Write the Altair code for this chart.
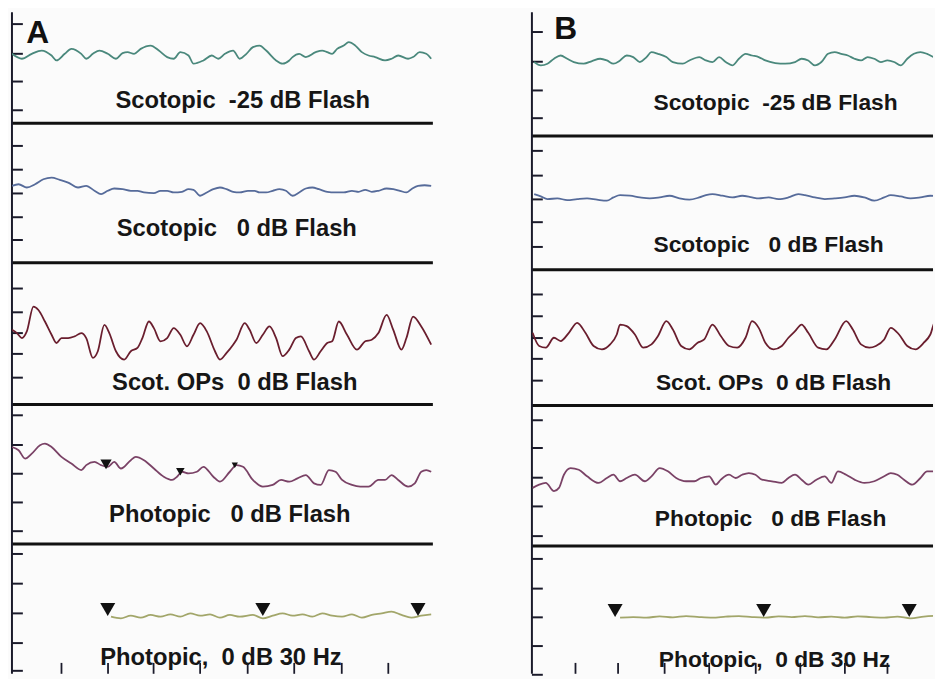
import altair as alt
import pandas as pd

# ---------------- data ----------------
ROWS = ["scot_m25", "scot_0", "scot_ops", "phot_0", "phot_30hz"]
LABELS = [
    "Scotopic\u00a0\u00a0-25 dB Flash",
    "Scotopic\u00a0\u00a0\u00a00 dB Flash",
    "Scot. OPs\u00a0\u00a00 dB Flash",
    "Photopic\u00a0\u00a0\u00a00 dB Flash",
    "Photopic,\u00a0\u00a00 dB 30 Hz",
]

# Panel A traces (t = time units from left axis, v = amplitude, up positive)
A1_T = [0, 10, 20, 30, 40, 45, 53.3, 60, 70, 75, 81.7, 88.3, 96.7, 105, 111.7, 116.7, 123.3, 130, 140, 148.3,
        156.7, 163.3, 170, 178.3, 183.3, 193.3, 201.7, 208.3, 215, 223.3, 230, 236.7, 243.3, 250, 256.7, 266.7,
        273.3, 280, 283.3, 290, 296.7, 306.7, 313.3, 318.3, 323.3, 328.3, 335, 340, 346.7, 353.3, 360, 366.7,
        376.7, 383.3, 390, 400, 405, 411.7, 418.3, 423.3]
A1_V = [0, -5, 0, 3.3, -1.7, -6.7, 0, 5, 0, -5, 0, 3.3, 0, -5, 0.7, 1.7, 0, 5, 8.3, 3.3,
        -3.3, -5, 1.7, -1.7, -10, -6.7, -1.7, -5, 0, 3.3, -5, 0, 6.7, 8.3, 3.3, -6.7,
        -10, -6.7, -3.3, 0, -3.3, 1.7, 3.3, 1.7, 0, 5, 8.3, 11.7, 8.3, 1.7, -1.7, -3.3,
        -6.7, -5, -1.7, -5, -3.3, 1.7, 0, -5]

A2_T = [0, 6.7, 15, 23.3, 31.7, 40, 48.3, 56.7, 66.7, 75, 83.3, 90, 96.7, 103.3, 111.7, 120, 126.7, 133.3,
        143.3, 150, 156.7, 163.3, 171.7, 178.3, 183.3, 190, 196.7, 203.3, 210, 216.7, 223.3, 230, 238.3, 245,
        250, 256.7, 263.3, 270, 276.7, 283.3, 290, 296.7, 303.3, 310, 318.3, 326.7, 335, 343.3, 350, 356.7,
        363.3, 370, 378.3, 385, 391.7, 398.3, 403.3, 410, 416.7, 423.3]
A2_V = [3.7, 5.3, 2, 5.3, 10.3, 12, 9.7, 7, 2, 3.7, -1.3, -4.7, -1.3, 1, 0.3, -1.3, -1.3, -3,
        -3.7, -1.3, -1.3, -3, -2.3, 0.3, -0.3, -6.3, -3, 0.3, 2, 0.3, -2.3, -3, -1.3, -1.3,
        -3, -3, -1.3, 0.3, -1.3, -6.3, -3, 1, 2, 0.3, -2.3, -3, -3, -1.3, -2.3, -0.3,
        -2.3, -1.3, 1, 0.3, -1.3, -3, 0.3, 3.7, 4.3, 3.7]

A3_T = [0, 5, 10, 15, 21.7, 26.7, 33.3, 40, 45, 50, 56.7, 63.3, 70, 75, 81.7, 86.7, 93.3, 98.3, 105, 113.3,
        120, 126.7, 131.7, 138.3, 143.3, 150, 156.7, 163.3, 170, 176.7, 183.3, 190, 196.7, 205, 210, 216.7,
        223.3, 226.7, 235, 240, 246.7, 253.3, 260, 266.7, 273.3, 280, 286.7, 291.7, 300, 305, 311.7, 318.3,
        323.3, 330, 338.3, 348.3, 356.7, 363.3, 370, 378.3, 385, 393.3, 398.3, 405, 413.3, 423.3]
A3_V = [8.3, 5, 0, 6.7, 31.7, 28.3, 16.7, 3.3, -5, 0, 0, 1.7, 5, 0, -20, -13.3, 13.3, 5, -13.3, -21.7,
        -13.3, -10, 0, 16.7, 10, -3.3, 0, 10, 3.3, -8.3, 3.3, 15, 6.7, -13.3, -21.7, -15,
        -6.7, -1.7, 15, 8.3, -5, 3.3, 11.7, 0, -18.3, -11.7, 0, 1.7, -13.3, -21.7, -13.3, -5,
        -3.3, 16.7, 3.3, -11.7, -3.3, -1.7, 5, 23.3, 8.3, -11.7, 0, 21.7, 11.7, -6.7]

A4_T = [0, 6.7, 13.3, 20, 28.3, 33.3, 40, 50, 60, 70, 75, 83.3, 90, 96.7, 103.3, 110, 120, 125, 133.3, 143.3,
        153.3, 161.7, 166.7, 171.7, 178.3, 186.7, 193.3, 203.3, 210, 220, 226.7, 233.3, 243.3, 253.3, 263.3,
        271.7, 280, 288.3, 296.7, 305, 311.7, 320, 326.7, 333.3, 343.3, 351.7, 360, 370, 376.7, 383.3, 390,
        400, 406.7, 413.3, 418.3, 423.3]
A4_V = [20, 16.7, 8.3, 13.3, 21.7, 23.3, 20, 10, 3.3, -3.3, 1.7, 5, 1.7, 0, 5, -1.7, 6.7, 10, 6.7, -1.7,
        -10, -13.3, -10, -5, -6.7, -5, 0, -10, -15, -5, 1.7, 0, -13.3, -20, -18.3,
        -13.3, -15, -11.7, -8.3, -16.7, -18.3, -3.3, -5, -13.3, -18.3, -20, -20, -13.3, -13.3, -8.3, -13.3,
        -20, -16.7, -5, -3.3, -5]

A5_T = [100, 110, 120, 130, 140, 150, 160, 170, 180, 190, 200, 210, 220, 230, 243.3, 253.3, 263.3, 273.3,
        283.3, 293.3, 303.3, 313.3, 323.3, 333.3, 343.3, 353.3, 363.3, 373.3, 383.3, 393.3, 403.3, 413.3, 423.3]
A5_V = [-1, -2.7, 0, -2, 0.7, -1, 1.3, -1, 2.3, 0, 1.3, -2, 0.7, -1, 0.7, -2.7, 0, 2.3,
        0, 1.3, -1, 2.3, 0, -1, 1.3, -2, 0.7, 2.3, 4, 0.7, -2, 0, 1.3]

# Panel B traces
B1_T = [2.3, 9, 15.7, 22.3, 29, 35.7, 42.3, 52.3, 60.7, 69, 75.7, 82.3, 89, 95.7, 102.3, 109, 115.7, 120.7,
        127.3, 135.7, 142.3, 152.3, 159, 169, 175.7, 182.3, 189, 195.7, 202.3, 209, 215.7, 222.3, 229, 235.7,
        245.7, 255.7, 265.7, 272.3, 279, 285.7, 292.3, 299, 305.7, 312.3, 319, 325.7, 332.3, 339, 345.7, 352.3,
        359, 365.7, 372.3, 379, 385.7, 392.3, 399, 405.7, 412]
B1_V = [-3.3, -6.7, -5, 0, 3.3, 0, -3.3, -5, -2.3, 0, -1.7, -5, -1.7, 3.3, 1.7, -3.3, 1.7, 6.7,
        5, 1.7, -3.3, -5, -1.7, 1.7, -1.7, -3.3, 1.7, -3.3, -6.7, 0, 5, 3.3, 1.7, -1.7,
        -4.3, -5, -3.3, 0, -1.7, -6.7, -3.3, 5, 6.7, 5, 3.3, 0, -1.7, 1.7, 0, -3.3,
        -1.7, -3.3, -6.7, 0, 5, 6.7, 5, 1.7, 0]

B2_T = [2.3, 9, 15.7, 25.7, 35.7, 45.7, 55.7, 65.7, 75.7, 82.3, 89, 99, 109, 119, 129, 139, 149, 159, 169,
        175.7, 182.3, 192.3, 202.3, 212.3, 222.3, 229, 239, 249, 259, 269, 275.7, 285.7, 295.7, 305.7, 315.7,
        325.7, 335.7, 345.7, 355.7, 362.3, 372.3, 382.3, 392.3, 402.3, 412]
B2_V = [3.3, 1, -1.7, -1, -2.7, -1.7, -1, -2.3, -3.3, 0, 2.3, 1.7, 0, -1, 0, 1.7, -1, -2.3, 0,
        2.3, 3.3, 1.7, 0, 1.7, 0, -1, 0, -1.7, 0, 3.3, 2.3, 0, -1.7, -1, 0,
        1.7, 0, -3.3, 0, 2.3, 1, -1, 0, 1.7, 1]

B3_T = [0.7, 7.3, 14, 22.3, 29, 37.3, 45.7, 54, 62.3, 70.7, 79, 85.7, 89, 95.7, 104, 112.3, 120.7, 127.3,
        135.7, 142.3, 150.7, 159, 167.3, 174, 182.3, 190.7, 199, 207.3, 215.7, 222.3, 229, 235.7, 244, 252.3,
        259, 265.7, 272.3, 279, 289, 297.3, 305.7, 317.3, 324, 332.3, 340.7, 347.3, 355.7, 362.3, 370.7, 379,
        387.3, 395.7, 402.3, 407.3, 412]
B3_V = [5, -8.3, -10, 0, -3.3, 5, 15, 5, -8.3, -11.7, -6.7, 3.3, 13.3, 11.7, 3.3, -10, -6.7, 1.7,
        16.7, 8.3, -8.3, -11.7, -5, -1.7, 13.3, 1.7, -8.3, -10, 0, 16.7, 10, -5, -11.7, -8.3,
        0, 6.7, 13.3, 5, -10, -11.7, -1.7, 16.7, 8.3, -6.7, -10, -8.3, -1.7, 10, 3.3, -8.3,
        -11.7, -5, 3.3, 16.7, 15]

B4_T = [0.7, 7.3, 14, 22.3, 27.3, 32.3, 39, 47.3, 55.7, 67.3, 75.7, 82.3, 89, 95.7, 104, 114, 120.7, 129,
        137.3, 145.7, 155.7, 164, 170.7, 179, 185.7, 190.7, 199, 205.7, 212.3, 219, 225.7, 232.3, 242.3, 252.3,
        259, 265.7, 272.3, 279, 287.3, 295.7, 302.3, 309, 317.3, 325.7, 335.7, 345.7, 355.7, 362.3, 369, 375.7,
        384, 392.3, 399, 405.7, 412]
B4_V = [-10, -6.7, -5, -13.3, -10, 3.3, 10, 8.3, 1.7, -5, 0, 3.3, -3.3, 0, 3.3, -3.3, 1.7, 10,
        6.7, 0, -3.3, -3.3, 0, 1.7, -6.7, -1.7, 3.3, 0, 3.3, 5, 3.3, -1.7, -3.3, -5,
        0, 3.3, -1.7, -6.7, -1.7, 1.7, -5, 6.7, 3.3, -1.7, -5, -3.3, 1.7, 5, 3.3, -1.7,
        -6.7, 0, 6.7, 6.7, 3.3]

B5_T = [89, 102.3, 115.7, 129, 142.3, 155.7, 169, 182.3, 195.7, 209, 222.3, 235.7, 249, 262.3, 275.7, 289,
        302.3, 315.7, 329, 342.3, 355.7, 369, 382.3, 395.7, 412]
B5_V = [-0.3, 0.3, -0.3, 1, 0, 1.3, 0.3, -0.3, 0.7, 1.3, 0.3, -0.3, 1, 0.3, 1.3, 0,
        0.7, -0.3, 1, 0.3, -0.3, 0.7, -1, 0.7, 1.7]

# 30 Hz stimulus markers and photopic peak markers
A_STIM_T = [96.7, 253.3, 410]
B_STIM_T = [84, 234, 381]
A_PEAK_T = [95, 170, 225]
A_PEAK_V = [2.5, -5.0, 1.5]
A_PEAK_SIZE = [130, 75, 40]

# axis divisions
A_BOTTOM_TICKS = [50, 97, 143, 190, 238, 285, 333, 380]
B_BOTTOM_TICKS = [44, 87, 134, 179, 226, 271, 316, 359]
A_LEFT_TICKS = [20, 50, 78, 107, 143, 167, 191, 215, 238, 287, 311, 332, 353, 377,
                415, 445, 474, 503, 532, 555, 585, 615, 645, 673]
B_LEFT_TICKS = [28, 58, 87, 115, 148, 173, 197, 220, 245, 293, 315, 337, 358, 380,
                420, 448, 478, 507, 537, 560, 590, 619, 648, 677]

# ---------------- layout ----------------
H = 668
TOP = 8


def uy(y_img):
    return H + TOP - y_img


PANELS = {
    "A": dict(
        W=425,
        traces=[(A1_T, A1_V), (A2_T, A2_V), (A3_T, A3_V), (A4_T, A4_V), (A5_T, A5_V)],
        base=[50, 187, 337, 467, 617.3],
        seps=[120, 261, 404, 545],
        colors=["#4a887c", "#566b9a", "#6a1e2e", "#7a4266", "#a2a66a"],
        label_t=[233, 227, 225, 220, 211],
        label_y=[98, 227, 382, 516, 660],
        letter_t=26, letter_y=29,
        stim=A_STIM_T, stim_y=611,
        bticks=A_BOTTOM_TICKS, lticks=A_LEFT_TICKS,
        font=24,
    ),
    "B": dict(
        W=405,
        traces=[(B1_T, B1_V), (B2_T, B2_V), (B3_T, B3_V), (B4_T, B4_V), (B5_T, B5_V)],
        base=[55, 195, 336.7, 478.3, 619],
        seps=[133, 268, 405, 547],
        colors=["#569688", "#5a70a0", "#9a3040", "#884676", "#969672"],
        label_t=[246, 239, 244, 241, 245],
        label_y=[100, 243, 382, 520, 662],
        letter_t=34, letter_y=25,
        stim=B_STIM_T, stim_y=612,
        bticks=B_BOTTOM_TICKS, lticks=B_LEFT_TICKS,
        font=23,
    ),
}


def build_panel(name, p):
    W = p["W"]
    xs = alt.Scale(domain=[0, W], nice=False, zero=False)
    ys = alt.Scale(domain=[0, H], nice=False, zero=False)

    rows = []
    for i, (ts, vs) in enumerate(p["traces"]):
        for t, v in zip(ts, vs):
            rows.append({"t": t, "y": uy(p["base"][i]) + v, "row": ROWS[i]})
    tr = pd.DataFrame(rows)

    lines = alt.Chart(tr).mark_line(clip=True, strokeWidth=1.8, interpolate="monotone").encode(
        x=alt.X("t:Q", scale=xs, axis=None),
        y=alt.Y("y:Q", scale=ys, axis=None),
        color=alt.Color("row:N", scale=alt.Scale(domain=ROWS, range=p["colors"]), legend=None),
        detail="row:N",
    )

    sep = pd.DataFrame({"y": [uy(v) for v in p["seps"]]})
    seps = alt.Chart(sep).mark_rule(color="#111111", strokeWidth=3).encode(
        x=alt.value(0), x2=alt.value(W), y=alt.Y("y:Q", scale=ys, axis=None)
    )

    axis_line = alt.Chart(pd.DataFrame({"k": [0]})).mark_rule(color="#1a1a2a", strokeWidth=2).encode(
        x=alt.value(0), y=alt.value(0), y2=alt.value(H)
    )

    lt = pd.DataFrame({"y": [uy(v) for v in p["lticks"]]})
    lticks = alt.Chart(lt).mark_rule(color="#1a1a2a", strokeWidth=2).encode(
        x=alt.value(0), x2=alt.value(11), y=alt.Y("y:Q", scale=ys, axis=None)
    )

    bt = pd.DataFrame({"t": p["bticks"]})
    bticks = alt.Chart(bt).mark_rule(color="#1a1a2a", strokeWidth=1.8).encode(
        x=alt.X("t:Q", scale=xs, axis=None), y=alt.value(H - 11), y2=alt.value(H)
    )

    lab = pd.DataFrame({
        "t": p["label_t"],
        "y": [uy(v) for v in p["label_y"]],
        "text": LABELS,
    })
    labels = alt.Chart(lab).mark_text(
        font="Liberation Sans", fontWeight="bold", fontSize=p["font"], color="#161616",
        align="center", baseline="middle",
    ).encode(x=alt.X("t:Q", scale=xs, axis=None), y=alt.Y("y:Q", scale=ys, axis=None), text="text:N")

    letter = alt.Chart(pd.DataFrame({"t": [p["letter_t"]], "y": [uy(p["letter_y"])], "text": [name]})).mark_text(
        font="Liberation Sans", fontWeight="bold", fontSize=32, color="#111111",
        align="center", baseline="middle",
    ).encode(x=alt.X("t:Q", scale=xs, axis=None), y=alt.Y("y:Q", scale=ys, axis=None), text="text:N")

    st = pd.DataFrame({"t": p["stim"], "y": [uy(p["stim_y"])] * len(p["stim"])})
    stim = alt.Chart(st).mark_point(shape="triangle-down", filled=True, color="#111111", size=230, opacity=1).encode(
        x=alt.X("t:Q", scale=xs, axis=None), y=alt.Y("y:Q", scale=ys, axis=None)
    )

    layers = [seps, axis_line, lticks, bticks, lines, stim, labels, letter]

    if name == "A":
        pk = pd.DataFrame({
            "t": A_PEAK_T,
            "y": [uy(p["base"][3]) + v for v in A_PEAK_V],
            "s": A_PEAK_SIZE,
        })
        peaks = alt.Chart(pk).mark_point(shape="triangle-down", filled=True, color="#111111", opacity=1).encode(
            x=alt.X("t:Q", scale=xs, axis=None),
            y=alt.Y("y:Q", scale=ys, axis=None),
            size=alt.Size("s:Q", scale=None, legend=None),
        )
        layers.append(peaks)

    return alt.layer(*layers).properties(width=W, height=H)


panel_a = build_panel("A", PANELS["A"])
panel_b = build_panel("B", PANELS["B"])

chart = alt.hconcat(panel_a, panel_b, spacing=96).properties(
    padding={"left": 2, "top": 0, "right": 0, "bottom": 0},
    background="#fbfbfb",
).configure_view(stroke=None)

chart.save("out.html", embed_options={"renderer": "svg", "actions": False})
